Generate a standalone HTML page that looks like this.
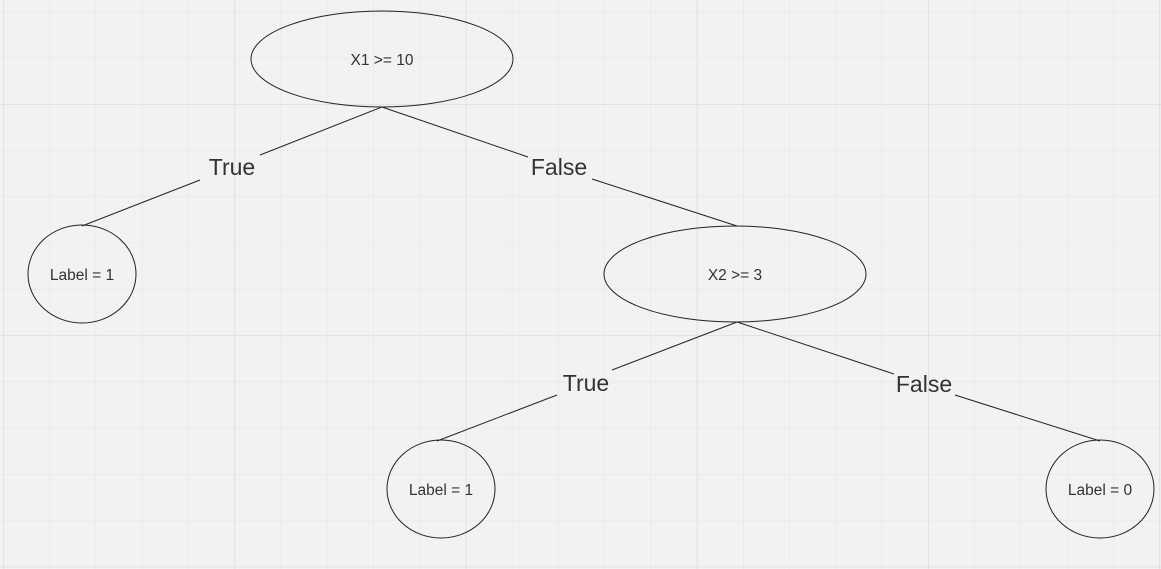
<!DOCTYPE html>
<html><head><style>
html,body{margin:0;padding:0;background:#f2f2f2;}
svg{display:block;}
text{font-family:"Liberation Sans","DejaVu Sans",sans-serif;fill:#333;}
</style></head><body>
<svg width="1161" height="569" viewBox="0 0 1161 569" xmlns="http://www.w3.org/2000/svg">
<defs>
<pattern id="minor" x="3" y="11.5" width="46.25" height="46.25" patternUnits="userSpaceOnUse">
<path d="M0 0H46.25M0 0V46.25" stroke="#e6e6e6" stroke-width="1.2" fill="none"/>
</pattern>
<pattern id="major" x="3" y="104" width="231.25" height="231.25" patternUnits="userSpaceOnUse">
<path d="M0 0H231.25M0 0V231.25" stroke="#dedede" stroke-width="1.6" fill="none"/>
</pattern>
</defs>
<rect width="1161" height="569" fill="#f2f2f2"/>
<rect width="1161" height="569" fill="url(#minor)"/>
<rect width="1161" height="569" fill="url(#major)"/>
<g stroke="#222" stroke-width="1" fill="none">
<ellipse cx="382" cy="59" rx="131" ry="48"/>
<ellipse cx="735" cy="274" rx="131" ry="48"/>
<ellipse cx="82" cy="274" rx="54" ry="49"/>
<ellipse cx="441" cy="489" rx="54" ry="49"/>
<ellipse cx="1100" cy="489" rx="54" ry="49"/>
<path d="M382 107L260 155M200 180L82 226"/>
<path d="M382 107L528 157M592 179L737 226"/>
<path d="M737 322L612 370M557 395L437 441"/>
<path d="M737 322L894 374M955 395L1100 441"/>
</g>
<g text-anchor="middle">
<text x="382" y="65" font-size="15.5">X1 &gt;= 10</text>
<text x="735" y="280" font-size="15.5">X2 &gt;= 3</text>
<text x="82" y="280" font-size="15.5">Label = 1</text>
<text x="441" y="495" font-size="15.5">Label = 1</text>
<text x="1100" y="495" font-size="15.5">Label = 0</text>
<text x="232" y="175" font-size="23">True</text>
<text x="559" y="175" font-size="23">False</text>
<text x="586" y="391" font-size="23">True</text>
<text x="924" y="392" font-size="23">False</text>
</g>
</svg>
</body></html>
